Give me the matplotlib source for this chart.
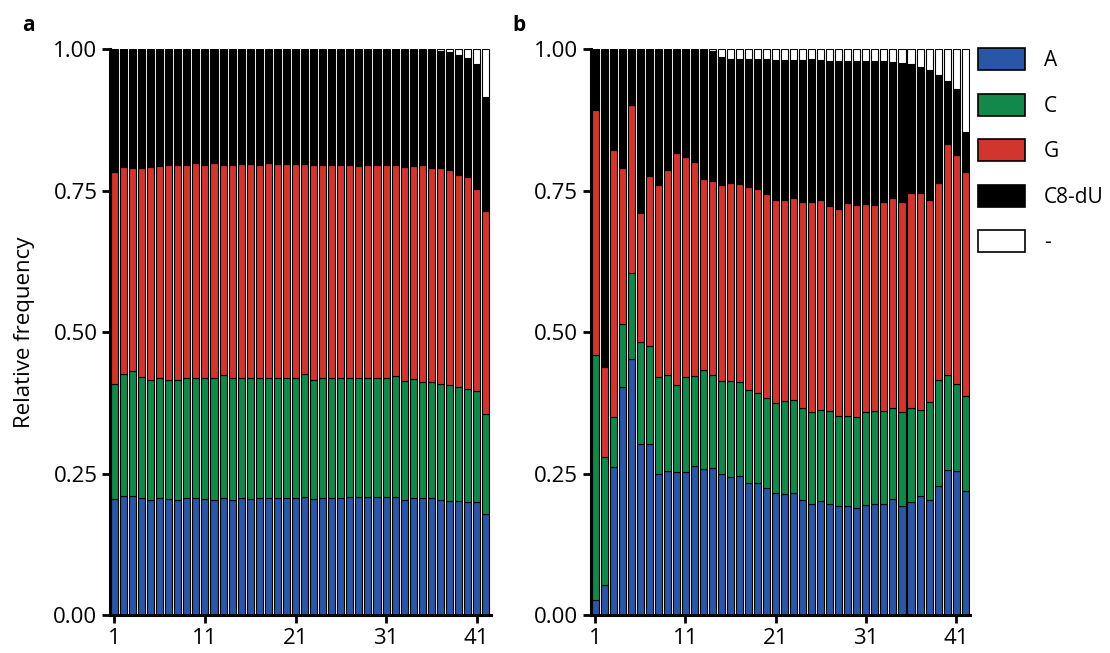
import numpy as np
import matplotlib
matplotlib.use('Agg')
import matplotlib.pyplot as plt
from matplotlib.patches import Patch

plt.rcParams['font.family'] = ['Open Sans', 'DejaVu Sans']

positions = np.arange(1, 43)
tick_positions = [1, 11, 21, 31, 41]
bases = ['A', 'C', 'G', 'C8-dU', '-']
colors = ['#2B56A6', '#12884A', '#D1352D', '#000000', '#FFFFFF']

# panel a: cumulative tops of each stacked layer (A, A+C, A+C+G, A+C+G+C8-dU)
a_top_A = [0.205, 0.211, 0.211, 0.206, 0.204, 0.207, 0.205, 0.204, 0.206, 0.206,
           0.205, 0.204, 0.207, 0.204, 0.206, 0.205, 0.206, 0.206, 0.206, 0.207,
           0.207, 0.209, 0.205, 0.207, 0.207, 0.207, 0.208, 0.209, 0.208, 0.208,
           0.209, 0.209, 0.204, 0.206, 0.206, 0.206, 0.203, 0.202, 0.201, 0.200,
           0.199, 0.178]
a_top_C = [0.409, 0.426, 0.431, 0.421, 0.415, 0.419, 0.416, 0.415, 0.418, 0.419,
           0.418, 0.418, 0.425, 0.418, 0.418, 0.418, 0.418, 0.418, 0.418, 0.418,
           0.418, 0.426, 0.415, 0.418, 0.418, 0.418, 0.418, 0.418, 0.419, 0.418,
           0.418, 0.422, 0.414, 0.417, 0.412, 0.412, 0.409, 0.406, 0.403, 0.400,
           0.396, 0.356]
a_top_G = [0.783, 0.792, 0.790, 0.790, 0.792, 0.793, 0.795, 0.795, 0.795, 0.798,
           0.795, 0.798, 0.795, 0.795, 0.796, 0.797, 0.795, 0.798, 0.797, 0.796,
           0.796, 0.796, 0.795, 0.795, 0.795, 0.795, 0.795, 0.793, 0.795, 0.795,
           0.795, 0.795, 0.791, 0.793, 0.795, 0.789, 0.789, 0.786, 0.778, 0.773,
           0.753, 0.714]
a_top_X = [1.000, 1.000, 1.000, 1.000, 1.000, 1.000, 1.000, 1.000, 1.000, 1.000,
           1.000, 1.000, 1.000, 1.000, 1.000, 1.000, 1.000, 1.000, 1.000, 1.000,
           1.000, 1.000, 1.000, 1.000, 1.000, 1.000, 1.000, 1.000, 1.000, 1.000,
           1.000, 1.000, 1.000, 0.999, 0.999, 0.998, 0.997, 0.994, 0.990, 0.984,
           0.974, 0.916]

# panel b
b_top_A = [0.027, 0.054, 0.261, 0.403, 0.452, 0.302, 0.302, 0.249, 0.254, 0.253,
           0.253, 0.263, 0.258, 0.260, 0.249, 0.244, 0.246, 0.234, 0.233, 0.224,
           0.215, 0.214, 0.216, 0.204, 0.197, 0.202, 0.196, 0.193, 0.193, 0.190,
           0.194, 0.196, 0.196, 0.205, 0.193, 0.200, 0.210, 0.204, 0.228, 0.257,
           0.254, 0.219]
b_top_C = [0.460, 0.279, 0.350, 0.515, 0.604, 0.482, 0.476, 0.420, 0.424, 0.407,
           0.421, 0.422, 0.433, 0.424, 0.414, 0.413, 0.411, 0.398, 0.393, 0.383,
           0.375, 0.378, 0.380, 0.366, 0.359, 0.362, 0.360, 0.352, 0.352, 0.350,
           0.359, 0.360, 0.361, 0.366, 0.359, 0.366, 0.363, 0.376, 0.415, 0.424,
           0.409, 0.387]
b_top_G = [0.892, 0.439, 0.822, 0.790, 0.901, 0.711, 0.776, 0.759, 0.786, 0.817,
           0.810, 0.800, 0.770, 0.767, 0.759, 0.763, 0.761, 0.756, 0.752, 0.744,
           0.734, 0.733, 0.736, 0.730, 0.730, 0.733, 0.722, 0.717, 0.728, 0.725,
           0.726, 0.725, 0.729, 0.736, 0.729, 0.745, 0.745, 0.734, 0.764, 0.832,
           0.812, 0.783]
b_top_X = [1.000, 1.000, 1.000, 1.000, 1.000, 1.000, 1.000, 1.000, 1.000, 1.000,
           1.000, 1.000, 0.999, 0.997, 0.985, 0.983, 0.982, 0.982, 0.982, 0.982,
           0.981, 0.981, 0.981, 0.981, 0.982, 0.981, 0.979, 0.979, 0.979, 0.978,
           0.978, 0.979, 0.978, 0.977, 0.975, 0.974, 0.969, 0.962, 0.954, 0.944,
           0.929, 0.854]


def draw_panel(ax, tops):
    bottom = np.zeros(len(positions))
    layers = [np.array(t) for t in tops] + [np.ones(len(positions))]
    for top, color in zip(layers, colors):
        ax.bar(positions, top - bottom, bottom=bottom, width=0.78, color=color,
               edgecolor='black', linewidth=0.8)
        bottom = top

    ax.set_xlim(0.5, 42.55)
    ax.set_ylim(0, 1)
    ax.set_xticks(tick_positions)
    ax.set_yticks([0, 0.25, 0.5, 0.75, 1.0])
    ax.set_yticklabels(['0.00', '0.25', '0.50', '0.75', '1.00'])
    ax.tick_params(labelsize=16, width=2, length=6, direction='out', pad=3)
    for side in ['top', 'right']:
        ax.spines[side].set_visible(False)
    for side in ['left', 'bottom']:
        ax.spines[side].set_linewidth(2.2)


fig = plt.figure(figsize=(11.1, 6.53), dpi=100)
ax1 = fig.add_axes([0.099, 0.058, 0.343, 0.867])
ax2 = fig.add_axes([0.532, 0.058, 0.342, 0.867])

draw_panel(ax1, [a_top_A, a_top_C, a_top_G, a_top_X])
draw_panel(ax2, [b_top_A, b_top_C, b_top_G, b_top_X])

ax1.set_ylabel('Relative frequency', fontsize=16, labelpad=13)

fig.text(0.02, 0.953, 'a', fontsize=15, fontweight='bold')
fig.text(0.462, 0.953, 'b', fontsize=15, fontweight='bold')

handles = [Patch(facecolor=c, edgecolor='black', linewidth=1.2) for c in colors]
fig.legend(handles, bases, loc='upper left', bbox_to_anchor=(0.881, 0.926),
           frameon=False, fontsize=15, handlelength=2.26, handleheight=1.25,
           labelspacing=1.08, handletextpad=0.9, borderpad=0, borderaxespad=0)

fig.savefig('out.png', dpi=100)
